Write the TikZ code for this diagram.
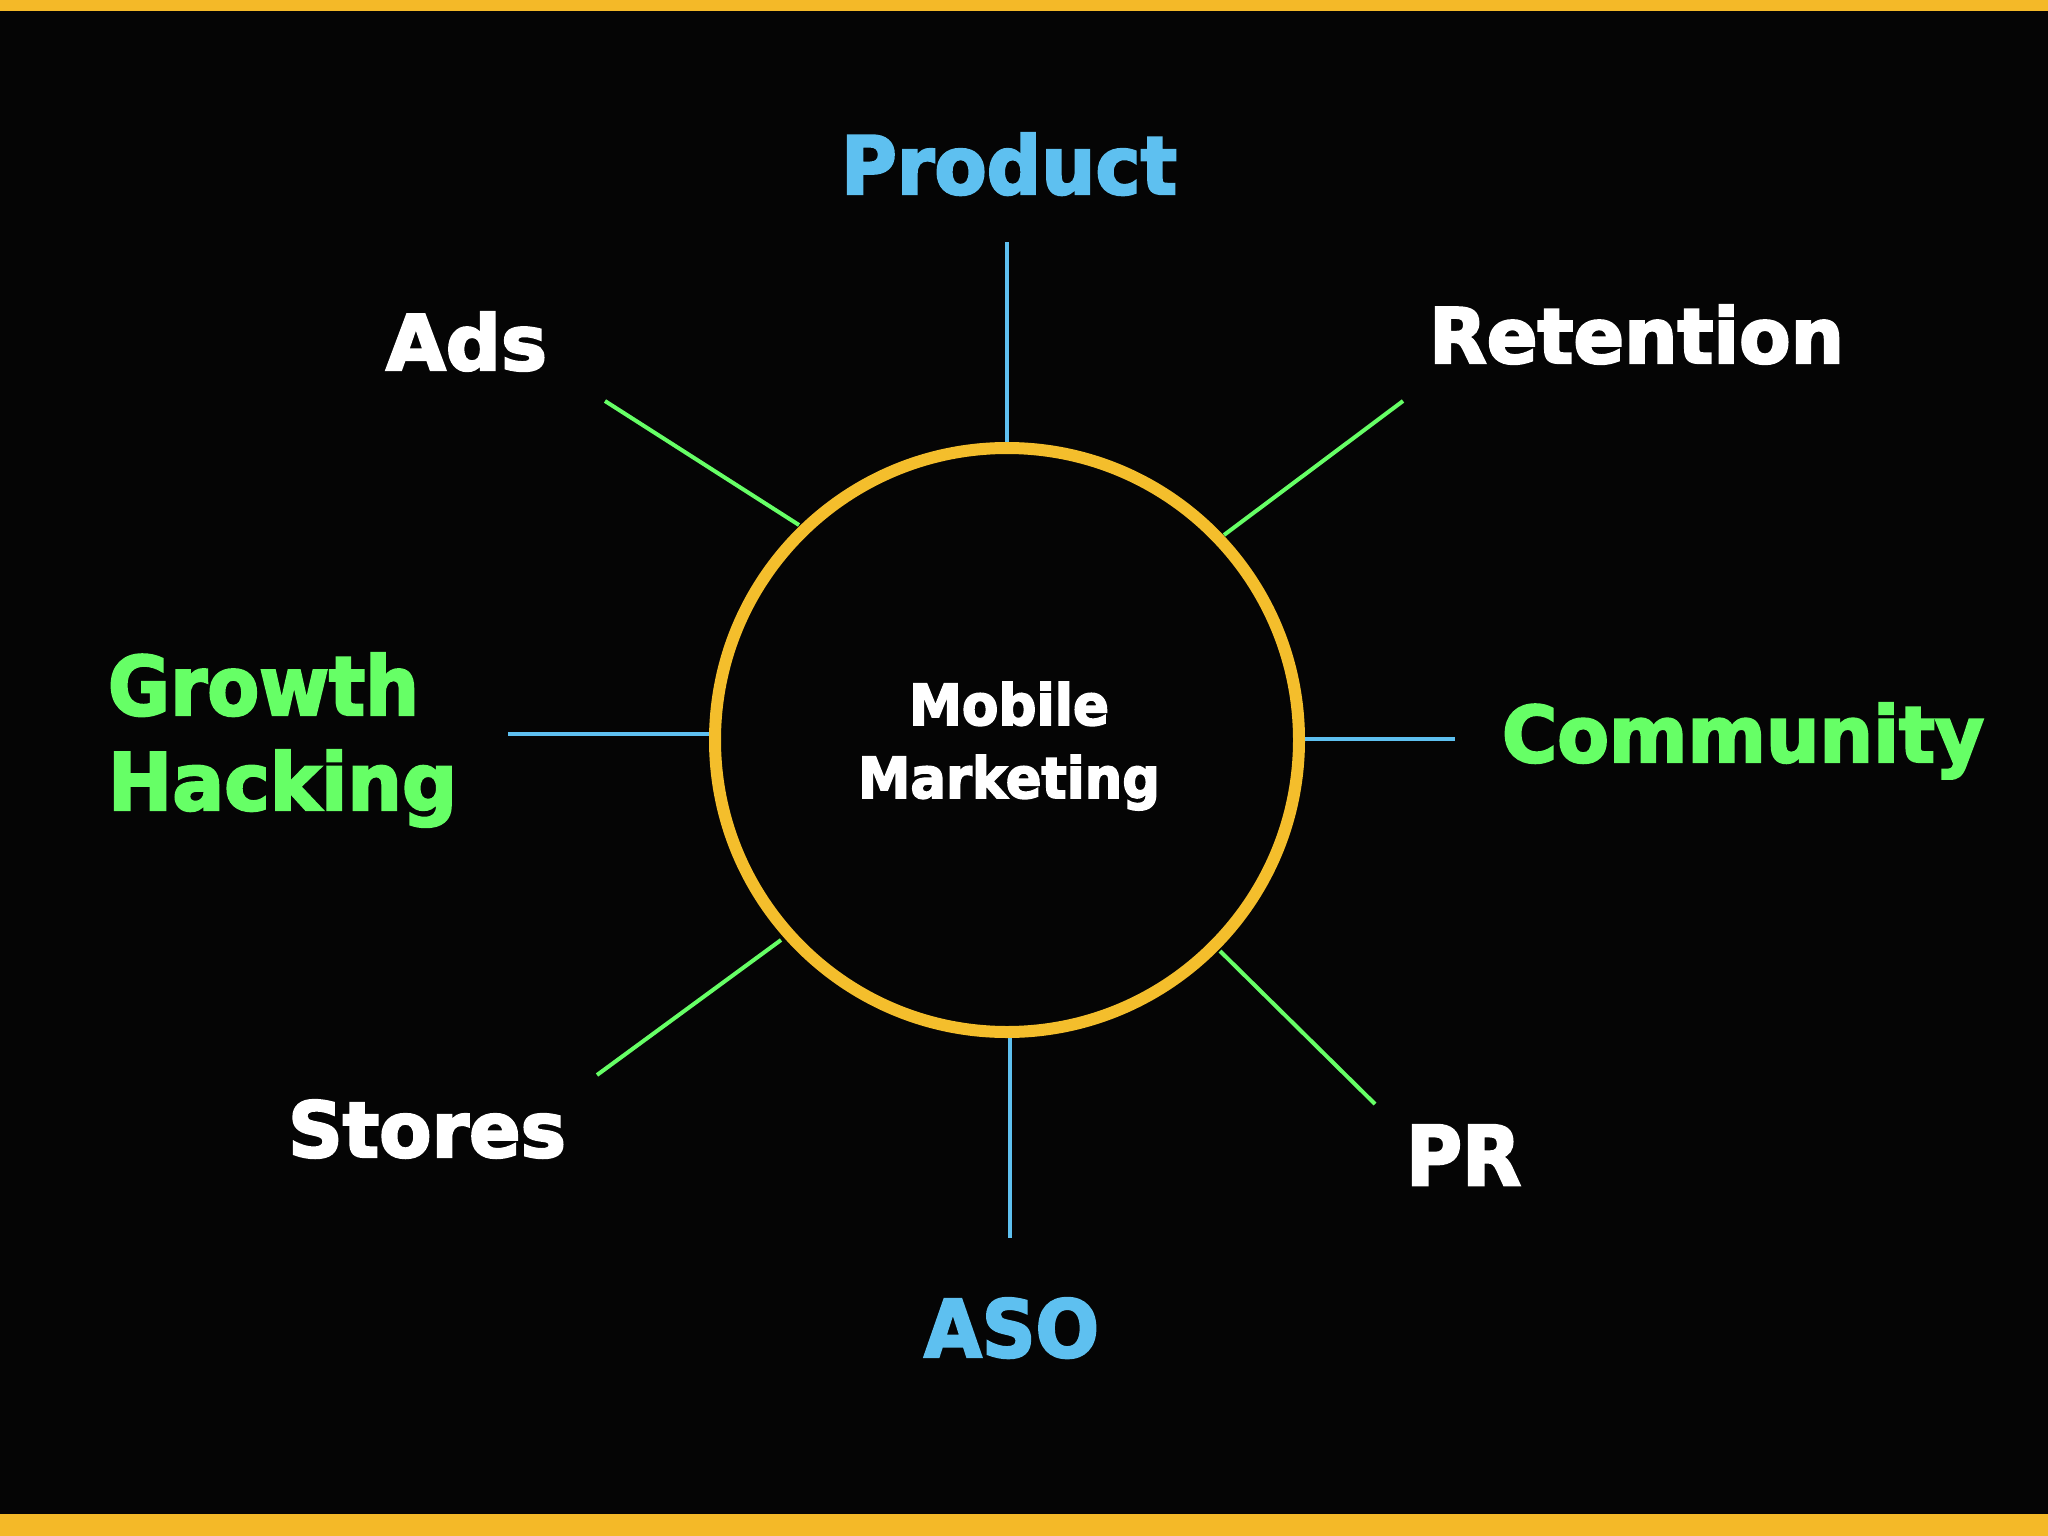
\documentclass[tikz,border=0pt]{standalone}
\usepackage{fontspec}
\setmainfont{DejaVu Sans}
\newfontfamily\heavyfont{DejaVu Sans Bold}[FakeBold=3]
\usepackage{graphicx}
\definecolor{bgblack}{HTML}{050505}
\definecolor{barYellow}{HTML}{F4B928}
\definecolor{ringYellow}{HTML}{F4BE2C}
\definecolor{skyBlue}{HTML}{5EC0F0}
\definecolor{limeGreen}{HTML}{66FF66}
\begin{document}
\begin{tikzpicture}[x=1pt,y=-1pt,
  lbl/.style={inner sep=0pt, outer sep=0pt, anchor=base west, font=\heavyfont\fontsize{60}{72}\selectfont},
  blueline/.style={draw=skyBlue, line width=4pt},
  greenline/.style={draw=limeGreen, line width=4pt}]
\useasboundingbox (0,0) rectangle (2048,1536);
\fill[bgblack] (0,0) rectangle (2048,1536);
\fill[barYellow] (0,0) rectangle (2048,11);
\fill[barYellow] (0,1514) rectangle (2048,1536);

% hub ring
\node[circle, draw=ringYellow, line width=12pt, minimum size=584pt, inner sep=0pt, outer sep=6pt] (hub) at (1007,740) {};
\node[inner sep=0pt, outer sep=0pt, anchor=north, align=center, text=white,
      font=\heavyfont\fontsize{40}{73}\selectfont] (mm) at (1009,682)
  {\resizebox{200pt}{43pt}{Mobile}\\\resizebox{302pt}{43pt}{Marketing}};

% labels
\node[lbl, text=skyBlue] (product) at (841,194) {\resizebox{336pt}{61pt}{Product}};
\node[lbl, text=white] (ads) at (386,370) {\resizebox{161pt}{58pt}{Ads}};
\node[lbl, text=white] (retention) at (1429,363) {\resizebox{415pt}{58pt}{Retention}};
\node[inner sep=0pt, outer sep=0pt, anchor=north west, align=left, text=limeGreen,
      font=\heavyfont\fontsize{60}{95}\selectfont] (growth) at (108,653)
  {\resizebox{311pt}{62pt}{Growth}\\\resizebox{349pt}{60pt}{Hacking}};
\node[lbl, text=limeGreen] (community) at (1502,762) {\resizebox{482pt}{59pt}{Community}};
\node[lbl, text=white] (stores) at (288,1157) {\resizebox{278pt}{57pt}{Stores}};
\node[lbl, text=white] (pr) at (1406,1185) {\resizebox{115pt}{60pt}{PR}};
\node[lbl, text=skyBlue] (aso) at (924,1357) {\resizebox{175pt}{59pt}{ASO}};

% spoke ends on the ring and free ends
\coordinate (productIn) at (1007,442);
\coordinate (productEnd) at (1007,242);
\coordinate (adsIn) at (799,525);
\coordinate (adsEnd) at (605,401);
\coordinate (retentionIn) at (1224,535);
\coordinate (retentionEnd) at (1403,401);
\coordinate (growthIn) at (709,734);
\coordinate (growthEnd) at (508,734);
\coordinate (communityIn) at (1305,739);
\coordinate (communityEnd) at (1455,739);
\coordinate (storesIn) at (781,940);
\coordinate (storesEnd) at (597,1075);
\coordinate (prIn) at (1220,951);
\coordinate (prEnd) at (1375,1104);
\coordinate (asoIn) at (1010,1038);
\coordinate (asoEnd) at (1010,1238);

% spokes
\draw[blueline] (productIn) -- (productEnd);
\draw[greenline] (adsIn) -- (adsEnd);
\draw[greenline] (retentionIn) -- (retentionEnd);
\draw[blueline] (growthIn) -- (growthEnd);
\draw[blueline] (communityIn) -- (communityEnd);
\draw[greenline] (storesIn) -- (storesEnd);
\draw[greenline] (prIn) -- (prEnd);
\draw[blueline] (asoIn) -- (asoEnd);
\end{tikzpicture}
\end{document}
